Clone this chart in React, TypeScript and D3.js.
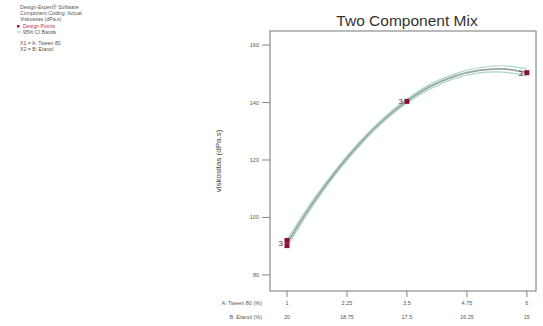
import * as d3 from 'd3';

// values
const tweenTicks = [1, 2.25, 3.5, 4.75, 6];
const etanolTicks = ['20', '18.75', '17.5', '16.25', '15'];
const yTicks = [80, 100, 120, 140, 160];

const designX = [1, 1, 3.5, 6];
const designY = [90.2, 92.0, 140.4, 150.4];
const labelX = [1, 3.5, 6];
const labelY = [91.1, 140.4, 150.4];
const labelText = ['3', '3', '3'];

const fitX = [1, 1.5, 2, 2.5, 3, 3.5, 4, 4.5, 5, 5.5, 6];
const fitY = [91.0, 104.1, 115.5, 125.4, 133.8, 140.5, 145.7, 149.2, 151.2, 151.7, 150.5];
const lowY = [89.8, 103.1, 114.7, 124.7, 133.1, 139.8, 144.9, 148.4, 150.3, 150.6, 149.3];
const highY = [92.2, 105.1, 116.3, 126.1, 134.5, 141.2, 146.5, 150.0, 152.1, 152.8, 151.7];

const legendLines = [
  'Design-Expert® Software',
  'Component Coding: Actual',
  'Viskositas (dPa.s)',
];

const W = 543;
const H = 326;
const left = 270;
const right = 536;
const top = 31;
const bottom = 291;

export default function App() {
  const x = d3.scaleLinear().domain([0.646, 6.19]).range([left, right]);
  const y = d3.scaleLinear().domain([74.4, 164.9]).range([bottom, top]);

  const line = (ys: number[]) =>
    d3
      .line<number>()
      .x((_, i) => x(fitX[i]))
      .y((d) => y(d))
      .curve(d3.curveCatmullRom)(ys) || '';

  const grey = '#555';
  const font = 'Liberation Sans, Arial, sans-serif';

  return (
    <svg
      width={W}
      height={H}
      style={{ position: 'absolute', left: 0, top: 0, background: '#fff' }}
      fontFamily={font}
    >
      {/* legend block */}
      <g fontSize={5.2} fill={grey}>
        {legendLines.map((t, i) => (
          <text key={t} x={20} y={9 + i * 6}>
            {t}
          </text>
        ))}
        <rect x={17} y={25} width={2.5} height={2.5} fill="#a01030" />
        <text x={23} y={28} fill="#c03050">
          Design Points
        </text>
        <line x1={17} x2={21} y1={32} y2={32} stroke="#7aa" strokeWidth={0.8} />
        <text x={23} y={34}>
          95% CI Bands
        </text>
        <text x={20} y={45}>
          X1 = A: Tween 80
        </text>
        <text x={20} y={51}>
          X2 = B: Etanol
        </text>
      </g>

      <text x={407} y={26} fontSize={15.5} textAnchor="middle" fill="#333">
        Two Component Mix
      </text>

      {/* frame */}
      <rect
        x={left}
        y={top}
        width={right - left}
        height={bottom - top}
        fill="none"
        stroke="#777"
        strokeWidth={1}
      />

      {/* y axis */}
      <g fontSize={5.5} fill={grey}>
        {yTicks.map((t) => (
          <g key={t}>
            <line x1={left - 8} x2={left} y1={y(t)} y2={y(t)} stroke="#888" />
            <text x={left - 11} y={y(t) + 2} textAnchor="end">
              {t}
            </text>
          </g>
        ))}
      </g>
      <text
        transform={`translate(221,${(top + bottom) / 2}) rotate(-90)`}
        fontSize={8}
        textAnchor="middle"
        fill="#444"
      >
        viskositas (dPa.s)
      </text>

      {/* x axis */}
      <g fontSize={5.5} fill={grey}>
        {tweenTicks.map((t, i) => (
          <g key={t}>
            <line x1={x(t)} x2={x(t)} y1={bottom} y2={bottom + 6} stroke="#888" />
            <text x={x(t)} y={305} textAnchor="middle">
              {t}
            </text>
            <text x={x(t)} y={319} textAnchor="middle">
              {etanolTicks[i]}
            </text>
          </g>
        ))}
        <text x={262} y={305} textAnchor="end">
          A: Tween 80 (%)
        </text>
        <text x={262} y={319} textAnchor="end">
          B: Etanol (%)
        </text>
      </g>

      {/* fitted line and CI bands */}
      <path d={line(lowY)} fill="none" stroke="#a8d8c8" strokeWidth={1.2} />
      <path d={line(highY)} fill="none" stroke="#a8d8c8" strokeWidth={1.2} />
      <path d={line(fitY)} fill="none" stroke="#9aa4a2" strokeWidth={1.8} />

      {/* design points */}
      {designX.map((d, i) => (
        <rect
          key={i}
          x={x(d) - 2.5}
          y={y(designY[i]) - 2.5}
          width={5}
          height={5}
          fill="#8a1030"
        />
      ))}
      {labelX.map((d, i) => (
        <text
          key={i}
          x={x(d) - 4}
          y={y(labelY[i]) + 3}
          fontSize={8}
          textAnchor="end"
          fill="#5a1a2a"
        >
          {labelText[i]}
        </text>
      ))}
    </svg>
  );
}
